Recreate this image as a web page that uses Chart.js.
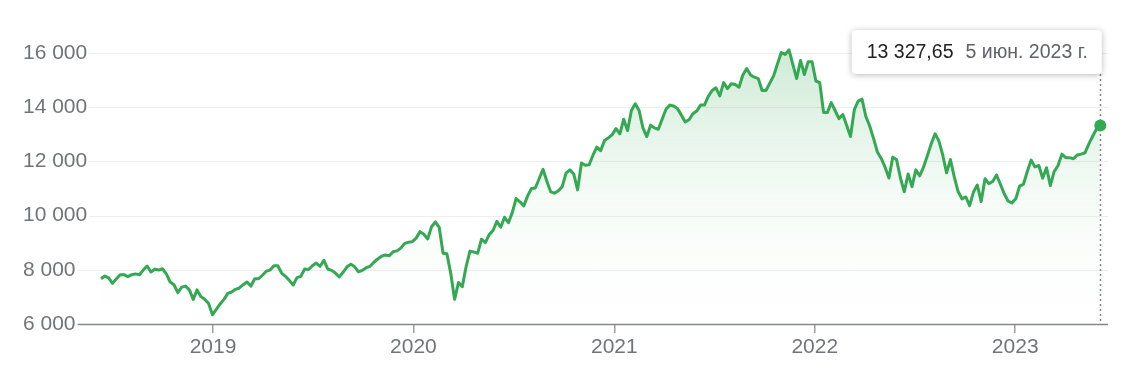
<!DOCTYPE html>
<html><head><meta charset="utf-8">
<script src="https://cdn.jsdelivr.net/npm/chart.js@4/dist/chart.umd.min.js"></script>
<style>html,body{margin:0;padding:0;background:#fff;}#wrap{width:1132px;height:370px;}</style>
</head><body><div id="wrap"><canvas id="c" width="1132" height="370"></canvas></div>
<script>
// ---- data ----
const startDate = '2018-06-11';   // first weekly close
const weekStepDays = 7;
const values = [
 7670, 7770, 7700, 7500, 7670, 7820, 7820, 7750, 7820, 7850, 7820, 7990, 8140, 7920, 8020, 7990, 8040, 7850, 7550, 7450,
 7160, 7360, 7400, 7260, 6910, 7260, 7010, 6910, 6760, 6340, 6540, 6740, 6910, 7130, 7180, 7280, 7330, 7450, 7550,
 7400, 7670, 7670, 7800, 7950, 7990,
 8150, 8150, 7880, 7760, 7610, 7440, 7710, 7760, 8030, 8010, 8150, 8250,
 8130, 8350, 8030, 7980, 7880, 7740, 7910, 8110, 8210, 8110,
 7930, 7980, 8080, 8130, 8280, 8400, 8500, 8550, 8520, 8670,
 8700, 8800, 8970, 9020, 9040, 9170, 9410, 9310, 9140, 9590,
 9770, 9570, 8610, 8590, 7870, 6910, 7530, 7380, 8120, 8690,
 8660, 8610, 9130, 9000, 9300, 9450, 9790, 9570, 9940, 9740,
 10110, 10630, 10510, 10360, 10730, 11000, 11020, 11360, 11710, 11270,
 10880, 10830, 10920, 11070, 11570, 11690, 11540, 10950, 11940, 11860,
 11880, 12230, 12530, 12400, 12770, 12870, 12990, 13210, 13020, 13560,
 13140, 13880, 14130, 13880, 13240, 12920, 13340, 13240, 13190, 13560,
 13930, 14080, 14050, 13950, 13710, 13460, 13540, 13760, 13860, 14080,
 14080, 14400, 14620, 14720, 14420, 14910, 14690, 14870, 14840, 14740,
 15190, 15430, 15190, 15110, 15060, 14620, 14620, 14890, 15160, 15600,
 16020, 15950, 16120, 15580, 15060, 15730, 15210, 15680, 15680, 14970,
 14910, 13810, 13810, 14170, 13880, 13580, 13730, 13340, 12920, 13910,
 14230, 14300, 13660, 13310, 12850, 12350, 12110, 11790, 11390, 12160,
 12060, 11390, 10880, 11540, 11070, 11690, 11470, 11790, 12210, 12650,
 13020, 12760, 12240, 11580, 12070, 11430, 10890, 10620, 10690, 10370,
 10870, 11130, 10520, 11360, 11180, 11260, 11500, 11160, 10810, 10540,
 10470, 10620, 11090, 11160, 11630, 12050, 11800, 11850, 11380, 11770,
 11110, 11630, 11850, 12270, 12140, 12140, 12100, 12240, 12270, 12320,
 12640, 12930, 13200, 13327.65
];
const yTicks = [6000, 8000, 10000, 12000, 14000, 16000];
const yearTicks = [2019, 2020, 2021, 2022, 2023];
const xRange = ['2018-05-22', '2023-06-19'];
const yRange = [6000, 17000];
const monthsRu = ['янв.','февр.','мар.','апр.','мая','июн.','июл.','авг.','сент.','окт.','нояб.','дек.'];

// ---- helpers ----
const DAY = 864e5;
const dayNum = s => Date.parse(s + 'T00:00:00Z') / DAY;
const fmtInt = v => String(Math.round(v)).replace(/\B(?=(\d{3})+(?!\d))/g, ' ');
const fmtVal = v => { const [i, f] = v.toFixed(2).split('.'); return fmtInt(+i) + ',' + f; };
const fmtDate = d => { const dt = new Date(d * DAY); return dt.getUTCDate() + ' ' + monthsRu[dt.getUTCMonth()] + ' ' + dt.getUTCFullYear() + ' г.'; };

const GREEN = '#34a853';
const LABEL = '#70757a';
const FONT_FAMILY = "'Liberation Sans', Arial, sans-serif";
const points = values.map((v, i) => ({ x: dayNum(startDate) + i * weekStepDays, y: v }));
const last = points.length - 1;

const overlay = {
  id: 'overlay',
  beforeDatasetsDraw(chart) {
    const { ctx, chartArea: a, scales: { y } } = chart;
    ctx.save();
    ctx.font = '21px ' + FONT_FAMILY;
    yTicks.forEach((v, i) => {
      const py = Math.round(y.getPixelForValue(v)) + 0.5;
      const w = ctx.measureText(fmtInt(v)).width;
      ctx.beginPath();
      ctx.moveTo(y.left + w + 2, py);
      ctx.lineTo(a.right, py);
      ctx.strokeStyle = i === 0 ? '#80868b' : '#eeeeee';
      ctx.lineWidth = i === 0 ? 1.5 : 1;
      ctx.stroke();
    });
    const pt = chart.getDatasetMeta(0).data[last];
    ctx.beginPath();
    ctx.setLineDash([2, 3]);
    ctx.moveTo(Math.round(pt.x) + 0.5, 74);
    ctx.lineTo(Math.round(pt.x) + 0.5, a.bottom);
    ctx.strokeStyle = '#80868b';
    ctx.lineWidth = 1.5;
    ctx.stroke();
    ctx.restore();
  },
  afterDraw(chart) {
    const { ctx } = chart;
    const pt = chart.getDatasetMeta(0).data[last];
    const t1 = fmtVal(values[last]);
    const t2 = fmtDate(points[last].x);
    ctx.save();
    ctx.font = '19.5px ' + FONT_FAMILY;
    const w1 = ctx.measureText(t1).width, w2 = ctx.measureText(t2).width;
    const bw = 15 + w1 + 12 + w2 + 14, bh = 44;
    const bx = pt.x + 1.5 - bw, by = 30;
    ctx.shadowColor = 'rgba(0,0,0,0.28)';
    ctx.shadowBlur = 6;
    ctx.shadowOffsetY = 1;
    ctx.fillStyle = '#fff';
    ctx.beginPath();
    ctx.roundRect(bx, by, bw, bh, 4);
    ctx.fill();
    ctx.shadowColor = 'transparent';
    ctx.textBaseline = 'middle';
    ctx.fillStyle = '#202124';
    ctx.fillText(t1, bx + 15, by + bh / 2 + 1);
    ctx.fillStyle = '#5f6368';
    ctx.fillText(t2, bx + 15 + w1 + 12, by + bh / 2 + 1);
    ctx.restore();
  }
};

new Chart(document.getElementById('c'), {
  type: 'line',
  data: {
    datasets: [{
      data: points,
      borderColor: GREEN,
      borderWidth: 3,
      borderJoinStyle: 'round',
      tension: 0,
      pointRadius: c => c.dataIndex === last ? 6 : 0,
      pointHoverRadius: 0,
      pointBackgroundColor: GREEN,
      pointBorderWidth: 0,
      fill: 'start',
      backgroundColor: c => {
        const { ctx, chartArea } = c.chart;
        if (!chartArea) return 'rgba(52,168,83,0.1)';
        const g = ctx.createLinearGradient(0, chartArea.top, 0, chartArea.bottom);
        g.addColorStop(0, 'rgba(52,168,83,0.27)');
        g.addColorStop(0.3, 'rgba(52,168,83,0.14)');
        g.addColorStop(0.55, 'rgba(52,168,83,0.055)');
        g.addColorStop(0.75, 'rgba(52,168,83,0.02)');
        g.addColorStop(1, 'rgba(52,168,83,0.0)');
        return g;
      }
    }]
  },
  options: {
    responsive: false,
    animation: false,
    devicePixelRatio: 1,
    layout: { padding: { left: 23, top: 26, right: 24, bottom: 0 } },
    plugins: { legend: { display: false }, tooltip: { enabled: false } },
    events: [],
    scales: {
      x: {
        type: 'linear',
        min: dayNum(xRange[0]),
        max: dayNum(xRange[1]),
        afterBuildTicks: s => { s.ticks = yearTicks.map(yr => ({ value: Date.UTC(yr, 0, 1) / DAY })); },
        afterFit: s => { s.height = 46; },
        ticks: {
          callback: v => String(new Date(v * DAY).getUTCFullYear()),
          font: { family: FONT_FAMILY, size: 21 },
          color: LABEL,
          padding: 2,
          maxRotation: 0,
          autoSkip: false
        },
        grid: { drawOnChartArea: false, drawTicks: true, tickLength: 9, color: '#9aa0a6', lineWidth: 1.5 },
        border: { display: false }
      },
      y: {
        min: yRange[0],
        max: yRange[1],
        afterBuildTicks: s => { s.ticks = yTicks.map(v => ({ value: v })); },
        afterFit: s => { s.width = 67; },
        ticks: {
          crossAlign: 'far',
          padding: 0,
          callback: v => fmtInt(v),
          font: { family: FONT_FAMILY, size: 21 },
          color: LABEL
        },
        grid: { display: false },
        border: { display: false }
      }
    }
  },
  plugins: [overlay]
});
</script>
</body></html>
